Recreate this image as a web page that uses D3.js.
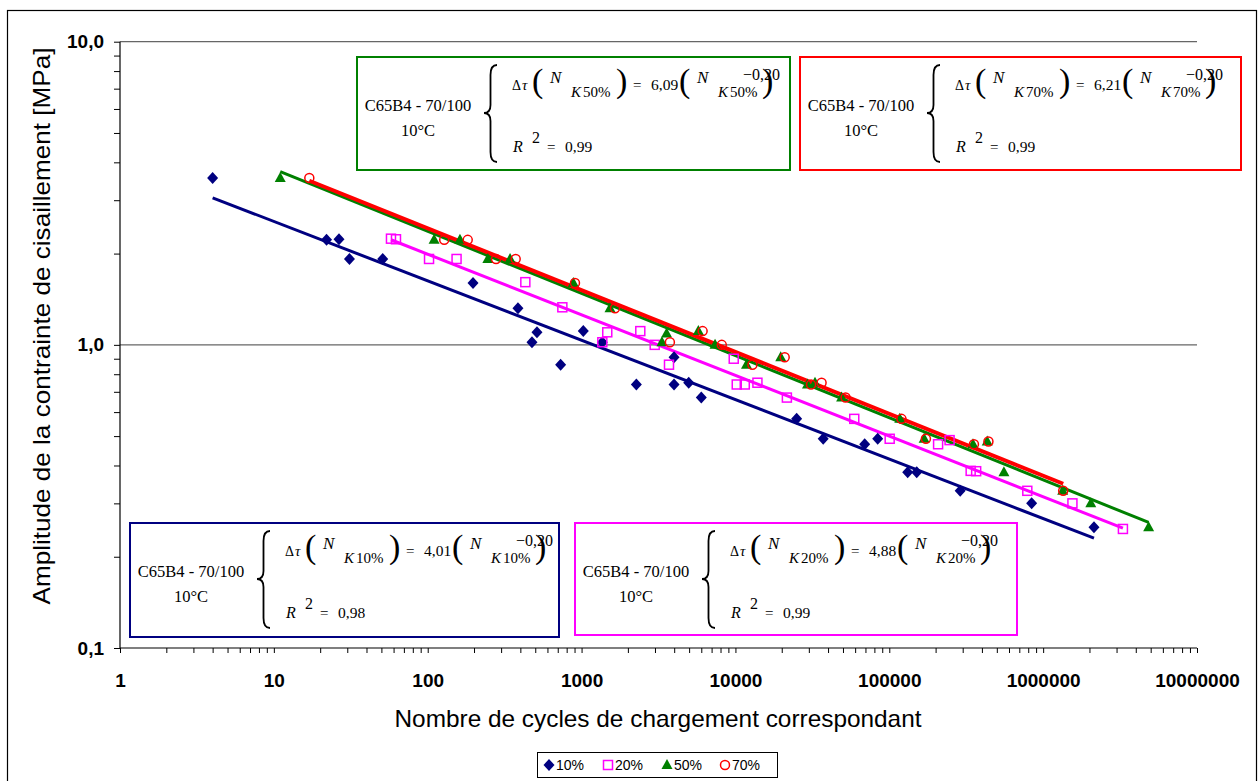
<!DOCTYPE html>
<html><head><meta charset="utf-8">
<script src="https://cdn.jsdelivr.net/npm/d3@7"></script>
<style>body{margin:0;background:#fff}</style>
</head><body><svg id="c" width="1259" height="781"></svg>
<script>
// ---------- DATA ----------
const seriesNames = ["10%", "20%", "50%", "70%"];
const seriesColors = ["#000080", "#FF00FF", "#008000", "#FF0000"];

const n10 = [4, 22, 26.5, 31, 51, 197, 386, 476, 513, 731, 1026, 1364, 2270, 3990, 3990, 4970, 6000, 25000, 37200, 69200, 84100, 131700, 150800, 289000, 842000, 2140000];
const t10 = [3.55, 2.22, 2.23, 1.92, 1.92, 1.60, 1.32, 1.02, 1.10, 0.86, 1.11, 1.02, 0.74, 0.91, 0.74, 0.75, 0.67, 0.57, 0.49, 0.47, 0.49, 0.38, 0.38, 0.33, 0.30, 0.25];

const n20 = [57.7, 62.2, 102, 154, 431, 750, 1364, 1469, 2408, 2988, 3700, 9750, 10200, 11500, 13900, 21600, 59200, 100600, 207600, 246600, 338000, 367000, 789000, 1550000, 3300000];
const t20 = [2.24, 2.23, 1.92, 1.92, 1.61, 1.33, 1.02, 1.10, 1.11, 1.00, 0.86, 0.90, 0.74, 0.74, 0.75, 0.67, 0.57, 0.49, 0.47, 0.485, 0.384, 0.383, 0.33, 0.30, 0.247];

const n50 = [11, 110, 162, 246, 343, 884, 1530, 3330, 3570, 5740, 7370, 11800, 19700, 29400, 32900, 49000, 117000, 168500, 350000, 433000, 556000, 1340000, 2040000, 4850000];
const t50 = [3.55, 2.22, 2.22, 1.92, 1.92, 1.60, 1.32, 1.02, 1.09, 1.11, 1.00, 0.86, 0.91, 0.74, 0.75, 0.67, 0.57, 0.49, 0.47, 0.48, 0.38, 0.33, 0.30, 0.25];

const n70 = [17, 128, 182, 278, 373, 906, 1650, 3750, 6120, 8150, 12900, 20900, 31000, 36300, 52000, 120000, 173000, 355000, 441000, 1350000];
const t70 = [3.55, 2.22, 2.22, 1.92, 1.92, 1.60, 1.32, 1.02, 1.11, 1.00, 0.86, 0.91, 0.74, 0.75, 0.67, 0.57, 0.49, 0.47, 0.48, 0.33];

// power trendlines tau = a * N^b (as drawn)
const trendCoef = [4.01, 5.0, 6.09, 6.20];
const trendExp = [-0.196, -0.200, -0.205, -0.204];

// equation labels
const eqPct = ["10%", "20%", "50%", "70%"];
const eqCoef = ["4,01", "4,88", "6,09", "6,21"];
const eqExp = ["\u22120,20", "\u22120,20", "\u22120,20", "\u22120,20"];
const eqR2 = ["0,98", "0,99", "0,99", "0,99"];
const eqMaterial = "C65B4 - 70/100";
const eqTemp = "10°C";

const xTickValues = [1, 10, 100, 1000, 10000, 100000, 1000000, 10000000];
const xTickLabels = ["1", "10", "100", "1000", "10000", "100000", "1000000", "10000000"];
const yTickValues = [0.1, 1, 10];
const yTickLabels = ["0,1", "1,0", "10,0"];
const xTitle = "Nombre de cycles de chargement correspondant";
const yTitle = "Amplitude de la contrainte de cisaillement [MPa]";

// ---------- LAYOUT ----------
const svg = d3.select("#c");
const sans = "'Liberation Sans', Arial, sans-serif";
const serif = "'Liberation Serif', 'Times New Roman', serif";
const L = 120, R = 1197, T = 41.7, B = 648;

svg.append("rect").attr("x", 7.5).attr("y", 10.5).attr("width", 1249).attr("height", 790)
  .attr("fill", "#fff").attr("stroke", "#000").attr("stroke-width", 1.2);

const x = d3.scaleLog().domain([1, 1e7]).range([L, R]);
const y = d3.scaleLog().domain([0.1, 10]).range([B, T]);

// gridlines
svg.append("g").selectAll("line").data(yTickValues.slice(1)).join("line")
  .attr("x1", L).attr("x2", R).attr("y1", d => y(d)).attr("y2", d => y(d))
  .attr("stroke", "#666").attr("stroke-width", 1.3);

// minor ticks
const minorX = [], minorY = [];
for (let e = 0; e < 7; e++) for (let m = 2; m <= 9; m++) minorX.push(m * Math.pow(10, e));
for (let e = -1; e < 1; e++) for (let m = 2; m <= 9; m++) minorY.push(m * Math.pow(10, e));

const xAxis = d3.axisBottom(x).tickValues(xTickValues.concat(minorX)).tickSize(5)
  .tickFormat(d => { const i = xTickValues.indexOf(d); return i >= 0 ? xTickLabels[i] : ""; });
const gx = svg.append("g").attr("transform", `translate(0,${B})`).call(xAxis);
gx.select(".domain").attr("d", `M${L},0H${R}`).attr("stroke", "#000").attr("stroke-width", 1.2);
gx.selectAll("text").attr("y", 26).attr("dy", "0.71em").attr("font-family", sans)
  .attr("font-weight", "bold").attr("font-size", 19).attr("fill", "#000");

const yAxis = d3.axisLeft(y).tickValues(yTickValues.concat(minorY)).tickSize(6)
  .tickFormat(d => { const i = yTickValues.indexOf(d); return i >= 0 ? yTickLabels[i] : ""; });
const gy = svg.append("g").attr("transform", `translate(${L},0)`).call(yAxis);
gy.select(".domain").attr("d", `M0,${T}V${B}`).attr("stroke", "#000").attr("stroke-width", 1.2);
gy.selectAll("text").attr("x", -16).attr("font-family", sans).attr("font-weight", "bold")
  .attr("font-size", 19).attr("fill", "#000");

// axis titles
svg.append("text").attr("x", 658).attr("y", 727).attr("text-anchor", "middle")
  .attr("font-family", sans).attr("font-size", 24).attr("textLength", 527)
  .attr("lengthAdjust", "spacingAndGlyphs").text(xTitle);
svg.append("text").attr("transform", "translate(50,326) rotate(-90)").attr("text-anchor", "middle")
  .attr("font-family", sans).attr("font-size", 24).attr("textLength", 557)
  .attr("lengthAdjust", "spacingAndGlyphs").text(yTitle);

// ---------- SERIES ----------
const series = [
  { n: n10, t: t10 }, { n: n20, t: t20 }, { n: n50, t: t50 }, { n: n70, t: t70 }
];
const lineWidths = [3, 3, 3, 4];
const lineGen = d3.line().x(d => x(d[0])).y(d => y(d[1]));
series.forEach((s, i) => {
  const ext = d3.extent(s.n);
  const pts = ext.map(n => [n, trendCoef[i] * Math.pow(n, trendExp[i])]);
  svg.append("path").attr("d", lineGen(pts)).attr("fill", "none")
    .attr("stroke", seriesColors[i]).attr("stroke-width", lineWidths[i]);
});

function marker(g, kind, cx, cy, color) {
  if (kind === 0) {
    g.append("path").attr("d", `M${cx},${cy - 6}L${cx + 5.5},${cy}L${cx},${cy + 6}L${cx - 5.5},${cy}Z`).attr("fill", color);
  } else if (kind === 1) {
    g.append("rect").attr("x", cx - 4.5).attr("y", cy - 4.5).attr("width", 9).attr("height", 9)
      .attr("fill", "none").attr("stroke", color).attr("stroke-width", 1.5);
  } else if (kind === 2) {
    g.append("path").attr("d", `M${cx},${cy - 6}L${cx + 5.5},${cy + 4}L${cx - 5.5},${cy + 4}Z`).attr("fill", color);
  } else {
    g.append("circle").attr("cx", cx).attr("cy", cy).attr("r", 4.5)
      .attr("fill", "none").attr("stroke", color).attr("stroke-width", 1.5);
  }
}
series.forEach((s, i) => {
  const g = svg.append("g");
  s.n.forEach((n, j) => marker(g, i, x(n), y(s.t[j]), seriesColors[i]));
});

// ---------- EQUATION BOXES ----------
const boxes = [
  { x: 130, y: 523, w: 429, h: 114 },
  { x: 575, y: 523, w: 442, h: 112 },
  { x: 357, y: 57, w: 433, h: 113 },
  { x: 800, y: 57, w: 441, h: 113 }
];
function txt(g, x0, y0, s, size, italic, anchor) {
  return g.append("text").attr("x", x0).attr("y", y0).attr("font-family", serif)
    .attr("font-size", size).attr("font-style", italic ? "italic" : "normal")
    .attr("text-anchor", anchor || "start").attr("fill", "#000").text(s);
}
boxes.forEach((b, i) => {
  const g = svg.append("g").attr("transform", `translate(${b.x},${b.y})`);
  g.append("rect").attr("x", 0).attr("y", 0).attr("width", b.w).attr("height", b.h)
    .attr("fill", "#fff").attr("stroke", seriesColors[i]).attr("stroke-width", 2);
  txt(g, 61, 54, eqMaterial, 16.5, false, "middle");
  txt(g, 61, 79, eqTemp, 16.5, false, "middle");
  // brace
  const bx = 127, y0 = 8, y1 = 105, cy = 56, w = 13;
  g.append("path").attr("d",
    `M${bx + w},${y0} Q${bx + w / 2},${y0} ${bx + w / 2},${y0 + 10} L${bx + w / 2},${cy - 8} Q${bx + w / 2},${cy} ${bx},${cy} Q${bx + w / 2},${cy} ${bx + w / 2},${cy + 8} L${bx + w / 2},${y1 - 10} Q${bx + w / 2},${y1} ${bx + w},${y1}`)
    .attr("fill", "none").attr("stroke", "#000").attr("stroke-width", 1.8);
  // line 1
  txt(g, 155, 33, "Δ", 14, false);
  txt(g, 165, 33, "τ", 15, true);
  txt(g, 175, 35, "(", 34, false);
  txt(g, 193, 26, "N", 17, true);
  txt(g, 214, 40, "K", 15, true);
  txt(g, 226, 40, eqPct[i], 15, false);
  txt(g, 259, 35, ")", 34, false);
  txt(g, 276, 33, "=", 15, false);
  txt(g, 294, 33, eqCoef[i], 15.5, false);
  txt(g, 322, 35, "(", 34, false);
  txt(g, 340, 26, "N", 17, true);
  txt(g, 361, 40, "K", 15, true);
  txt(g, 373, 40, eqPct[i], 15, false);
  txt(g, 405, 35, ")", 34, false);
  txt(g, 386, 23, eqExp[i], 16, false);
  // line 2
  txt(g, 156, 95, "R", 16, true);
  txt(g, 175, 86, "2", 16, false);
  txt(g, 190, 95, "=", 15, false);
  txt(g, 208, 95, eqR2[i], 15.5, false);
});

// ---------- LEGEND ----------
const lg = svg.append("g");
lg.append("rect").attr("x", 537.5).attr("y", 752.5).attr("width", 240).attr("height", 25)
  .attr("fill", "#fff").attr("stroke", "#000").attr("stroke-width", 1);
const legX = [549, 608, 667, 725];
seriesNames.forEach((nm, i) => {
  marker(lg, i, legX[i], 765, seriesColors[i]);
  lg.append("text").attr("x", legX[i] + 7).attr("y", 770).attr("font-family", sans)
    .attr("font-size", 14).attr("fill", "#000").text(nm);
});
</script>
</body></html>
